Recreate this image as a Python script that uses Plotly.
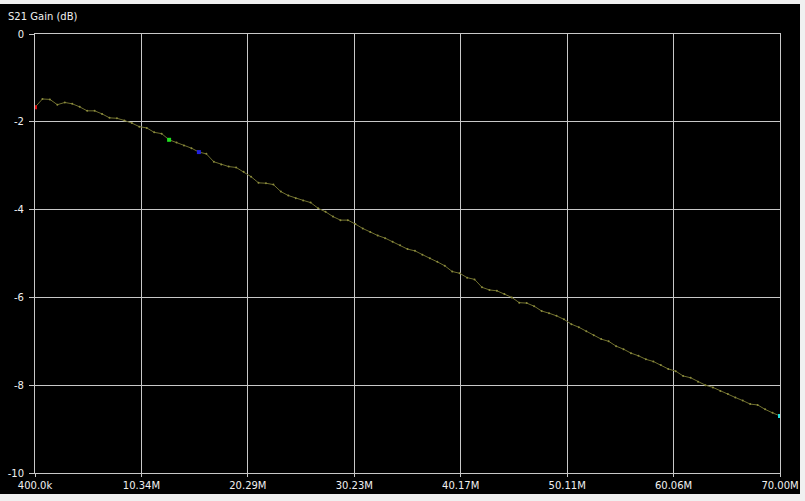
import plotly.graph_objects as go

# Sweep definition (MHz)
sweep_start_mhz = 0.4
sweep_stop_mhz = 70.0
sweep_points = 101
freq_mhz = [sweep_start_mhz + i * (sweep_stop_mhz - sweep_start_mhz) / (sweep_points - 1) for i in range(sweep_points)]

# S21 gain (dB)
gain_db = [
    -1.67, -1.48, -1.49, -1.61, -1.56, -1.59, -1.66, -1.75, -1.75, -1.82,
    -1.91, -1.92, -1.97, -2.03, -2.11, -2.14, -2.24, -2.27, -2.41, -2.47,
    -2.54, -2.60, -2.69, -2.73, -2.91, -2.97, -3.02, -3.04, -3.14, -3.25,
    -3.39, -3.40, -3.43, -3.59, -3.68, -3.74, -3.79, -3.84, -3.97, -4.05,
    -4.16, -4.24, -4.24, -4.33, -4.43, -4.51, -4.59, -4.65, -4.73, -4.81,
    -4.90, -4.94, -5.03, -5.11, -5.19, -5.28, -5.41, -5.45, -5.55, -5.59,
    -5.77, -5.83, -5.85, -5.92, -6.00, -6.12, -6.13, -6.20, -6.31, -6.36,
    -6.42, -6.50, -6.61, -6.68, -6.77, -6.86, -6.95, -7.00, -7.11, -7.18,
    -7.27, -7.33, -7.41, -7.46, -7.54, -7.63, -7.68, -7.79, -7.83, -7.92,
    -8.00, -8.05, -8.13, -8.20, -8.28, -8.35, -8.43, -8.45, -8.55, -8.63,
    -8.70,
]

# Marker points (index into sweep) and their colours
marker_idx = [0, 18, 22, 100]
marker_colors = ["#e01010", "#20e020", "#2020e0", "#20e0e0"]

# Axis ticks
x_tick_vals = [0.4, 10.343, 20.286, 30.229, 40.171, 50.114, 60.057, 70.0]
x_tick_text = ["400.0k", "10.34M", "20.29M", "30.23M", "40.17M", "50.11M", "60.06M", "70.00M"]
y_tick_vals = [0, -2, -4, -6, -8, -10]
y_tick_text = ["0", "-2", "-4", "-6", "-8", "-10"]

fig = go.Figure()
fig.add_trace(go.Scatter(
    x=freq_mhz, y=gain_db, mode="lines+markers",
    line=dict(color="#707030", width=1),
    marker=dict(size=2, color="#8c8c3c"),
    hoverinfo="skip", showlegend=False,
))
fig.add_trace(go.Scatter(
    x=[freq_mhz[i] for i in marker_idx], y=[gain_db[i] for i in marker_idx],
    mode="markers", marker=dict(size=4, color=marker_colors, symbol="square"),
    hoverinfo="skip", showlegend=False,
))

W, H = 805, 501
L, R, T, B = 35, 25, 34, 28
pw, ph = W - L - R, H - T - B

# black panel behind everything
fig.add_shape(type="rect", xref="paper", yref="paper", layer="below",
              x0=(0 - L) / pw, x1=(800 - L) / pw,
              y0=-(494 - (H - B)) / ph, y1=((H - B) - 4) / ph,
              fillcolor="black", line=dict(width=0))

grid = "#c8c8c8"
fig.update_xaxes(
    range=[sweep_start_mhz, sweep_stop_mhz], tickvals=x_tick_vals, ticktext=x_tick_text,
    showgrid=True, gridcolor=grid, gridwidth=1, zeroline=False, automargin=False,
    showline=True, linecolor=grid, linewidth=1, mirror=True,
    ticks="outside", ticklen=3, tickcolor=grid,
    tickfont=dict(family="DejaVu Sans", size=10, color="#f0f0f0"),
)
fig.update_yaxes(
    range=[-10, 0], tickvals=y_tick_vals, ticktext=y_tick_text,
    showgrid=True, gridcolor=grid, gridwidth=1, zeroline=False, automargin=False,
    showline=True, linecolor=grid, linewidth=1, mirror=True,
    ticks="outside", ticklen=5, tickcolor=grid, ticklabelstandoff=3,
    tickfont=dict(family="DejaVu Sans", size=10, color="#f0f0f0"),
)
fig.update_layout(
    width=W, height=H,
    margin=dict(l=L, r=R, t=T, b=B, pad=0, autoexpand=False),
    paper_bgcolor="#f0f0f0", plot_bgcolor="black",
    title=dict(text="S21 Gain (dB)", x=8 / W, xref="container", xanchor="left",
               y=1 - 16 / H, yref="container", yanchor="middle", automargin=False,
               font=dict(family="DejaVu Sans", size=10, color="#f0f0f0")),
)
fig.write_html(
    "out.html",
    config={"displayModeBar": False, "responsive": False},
    post_script=(
        "document.documentElement.style.margin='0';"
        "document.documentElement.style.padding='0';"
        "document.documentElement.style.overflow='hidden';"
        "document.body.style.margin='0';"
        "document.body.style.padding='0';"
        "document.body.style.overflow='hidden';"
    ),
)
